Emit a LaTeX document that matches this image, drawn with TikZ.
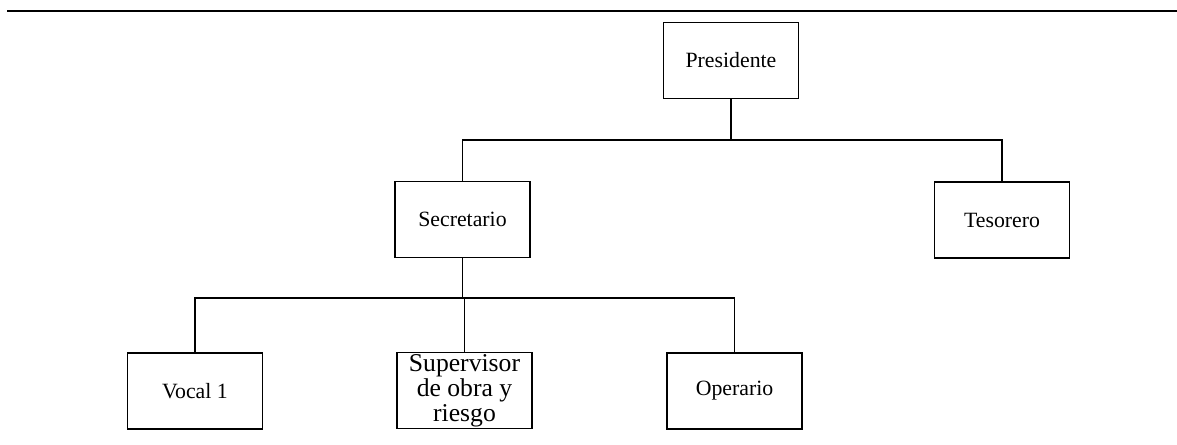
\documentclass[tikz,border=0pt]{standalone}
\usepackage{fontspec}
\setmainfont{Liberation Serif}
\tikzset{
	cargo/.style={draw, line width=0.6pt, minimum width=2.7cm, minimum height=1.52cm, inner sep=1pt, align=center, font=\fontsize{12.4}{15}\selectfont},
	linea/.style={line width=0.6pt}
}
\begin{document}
\begin{tikzpicture}[x=0.02cm, y=-0.02cm]
		\useasboundingbox (0,0) rectangle (1177,444);
		\draw[line width=1.1pt] (7,11) -- (1177,11);
		\node[cargo] (pres) at (731,60.5) {Presidente};
		\node[cargo] (sec) at (462.5,219.5) {Secretario};
		\node[cargo] (tes) at (1002,220) {Tesorero};
		\node[cargo] (voc) at (195,391) {Vocal 1};
		\node[cargo, font=\fontsize{14.6}{14.2}\selectfont] (sup) at (464.5,390.5) {Supervisor\\ de obra y\\ riesgo};
		\node[cargo] (ope) at (734.5,391) {Operario};
		\coordinate (bus1) at (0,140);
		\coordinate (bus2) at (0,298);
		% primer nivel
		\draw[linea] (pres.south) -- (pres.south |- bus1);
		\draw[linea] (sec.north) |- (bus1 -| tes.north) -- (tes.north);
		% segundo nivel
		\draw[linea] (sec.south) -- (sec.south |- bus2);
		\draw[linea] (voc.north) |- (bus2 -| ope.north) -- (ope.north);
		\draw[linea] (sup.north) -- (sup.north |- bus2);
	\end{tikzpicture}
\end{document}
